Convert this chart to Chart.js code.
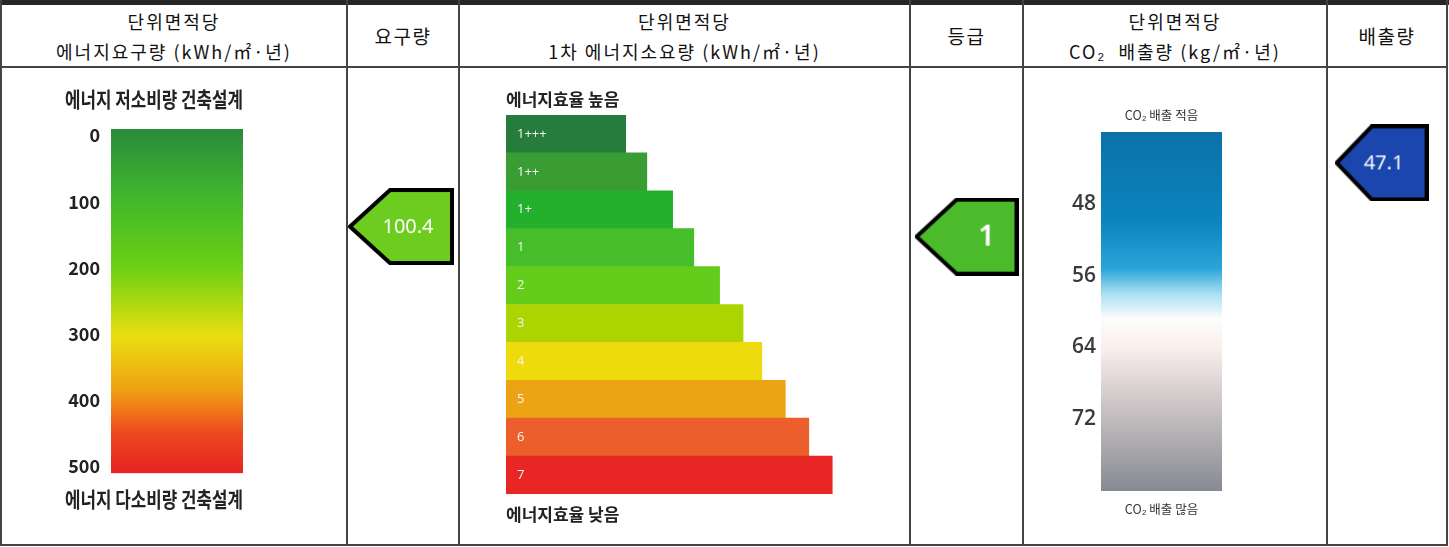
<!DOCTYPE html>
<html>
<head>
<meta charset="utf-8">
<script src="https://cdn.jsdelivr.net/npm/chart.js@4.4.0/dist/chart.umd.min.js"></script>
<style>
body{margin:0;background:#fff;font-family:"Noto Sans CJK KR",sans-serif;}
#wrap{position:relative;width:1449px;height:547px;overflow:hidden;background:#fff;}
.ln{position:absolute;background:#444;}
.hd{position:absolute;top:5px;height:61px;display:flex;flex-direction:column;justify-content:center;align-items:center;color:#111;font-size:18px;line-height:30px;letter-spacing:2px;white-space:nowrap;}
.hd.one{font-size:19px;letter-spacing:1.5px;}
canvas{position:absolute;top:68px;}
</style>
</head>
<body>
<div id="wrap">
  <div class="ln" style="left:0;top:0;width:1449px;height:5px;background:#262626"></div>
  <div class="ln" style="left:0;top:66px;width:1448px;height:2px"></div>
  <div class="ln" style="left:0;top:544px;width:1448px;height:2px"></div>
  <div class="ln" style="left:0;top:0;width:2px;height:546px"></div>
  <div class="ln" style="left:1446px;top:0;width:2px;height:546px"></div>
  <div class="ln" style="left:346px;top:0;width:2px;height:546px"></div>
  <div class="ln" style="left:458px;top:0;width:2px;height:546px"></div>
  <div class="ln" style="left:909px;top:0;width:2px;height:546px"></div>
  <div class="ln" style="left:1022px;top:0;width:2px;height:546px"></div>
  <div class="ln" style="left:1326px;top:0;width:2px;height:546px"></div>

  <div class="hd" style="left:2px;width:344px"><div>단위면적당</div><div>에너지요구량 (kWh/㎡·년)</div></div>
  <div class="hd one" style="left:348px;width:110px"><div>요구량</div></div>
  <div class="hd" style="left:460px;width:449px"><div>단위면적당</div><div>1차 에너지소요량 (kWh/㎡·년)</div></div>
  <div class="hd one" style="left:911px;width:111px"><div>등급</div></div>
  <div class="hd" style="left:1024px;width:302px"><div>단위면적당</div><div>CO₂&nbsp; 배출량 (kg/㎡·년)</div></div>
  <div class="hd one" style="left:1328px;width:118px"><div>배출량</div></div>

  <canvas id="c1" width="345" height="476" style="left:1px"></canvas>
  <canvas id="c2" width="110" height="476" style="left:348px"></canvas>
  <canvas id="c3" width="449" height="476" style="left:460px"></canvas>
  <canvas id="c4" width="111" height="476" style="left:911px"></canvas>
  <canvas id="c5" width="302" height="476" style="left:1024px"></canvas>
  <canvas id="c6" width="118" height="476" style="left:1328px"></canvas>
</div>
<script>
// values
var demandTicks = [0, 100, 200, 300, 400, 500];
var demandValue = [100.4];
var grades = ['1+++', '1++', '1+', '1', '2', '3', '4', '5', '6', '7'];
var gradeLength = [5.1, 6.0, 7.1, 8.0, 9.1, 10.1, 10.9, 11.9, 12.9, 13.9];
var myGrade = ['1'];
var co2Ticks = [48, 56, 64, 72];
var co2Value = [47.1];

var gradeColors = ['#267c3a', '#3a9d34', '#24b02c', '#46be2a', '#64cc1a', '#acd400', '#eedb0e', '#eca414', '#ec5f2c', '#e82624'];
var demandStops = [[0, '#2a8a3c'], [0.2, '#40b82c'], [0.4, '#6ad014'], [0.6, '#e8df10'], [0.76, '#f0a012'], [0.88, '#ee4a20'], [1, '#e82222']];
var co2Stops = [[0, '#0b72a8'], [0.25, '#0b84bf'], [0.38, '#2aa4d8'], [0.45, '#a8dff2'], [0.52, '#fdfdfd'], [0.6, '#fbeeec'], [0.76, '#cbc5c6'], [1, '#878a92']];

var KR = '"Noto Sans CJK KR", sans-serif';

Chart.defaults.animation = false;
Chart.defaults.events = [];
Chart.defaults.plugins.legend.display = false;
Chart.defaults.plugins.tooltip.enabled = false;

var noGrid = { display: false, drawTicks: false };

function vGrad(chart, stops) {
  var a = chart.chartArea;
  if (!a) return stops[0][1];
  var g = chart.ctx.createLinearGradient(0, a.top, 0, a.bottom);
  stops.forEach(function (s) { g.addColorStop(s[0], s[1]); });
  return g;
}

function arrowImg(w, h, notch, fill, text, font, textX) {
  var lw = 4;
  var c = document.createElement('canvas');
  c.width = w + lw;
  c.height = h + lw;
  var g = c.getContext('2d');
  g.translate(lw / 2, lw / 2);
  g.beginPath();
  g.moveTo(0, h / 2);
  g.lineTo(notch, 0);
  g.lineTo(w, 0);
  g.lineTo(w, h);
  g.lineTo(notch, h);
  g.closePath();
  g.fillStyle = fill;
  g.fill();
  g.lineWidth = lw;
  g.strokeStyle = '#000';
  g.stroke();
  g.fillStyle = '#fff';
  g.font = font;
  g.textAlign = 'center';
  g.textBaseline = 'middle';
  g.fillText(text, textX, h / 2 + 1);
  return c;
}

function arrowChart(id, point, img, yScale, pad) {
  return new Chart(document.getElementById(id), {
    type: 'scatter',
    data: { datasets: [{ data: [point], pointStyle: img, clip: false }] },
    options: {
      responsive: false,
      layout: { padding: pad },
      scales: {
        x: { display: false, min: 0, max: 1 },
        y: yScale
      }
    }
  });
}

// column 1: energy demand scale
new Chart(document.getElementById('c1'), {
  type: 'bar',
  data: {
    labels: [''],
    datasets: [{
      data: [[-10, 510]],
      backgroundColor: function (c) { return vGrad(c.chart, demandStops); },
      borderWidth: 0, barPercentage: 1, categoryPercentage: 1
    }]
  },
  options: {
    responsive: false,
    layout: { padding: { left: 64, right: 103, top: 0, bottom: 0 } },
    plugins: {
      title: { display: true, text: '에너지 저소비량 건축설계', align: 'start', color: '#222',
        font: { family: KR, size: 21, weight: 'bold' }, padding: { top: 18.4, bottom: 17.4 } },
      subtitle: { display: true, position: 'bottom', text: '에너지 다소비량 건축설계', align: 'start', color: '#222',
        font: { family: KR, size: 21, weight: 'bold' }, padding: { top: 13.4, bottom: 32.2 } }
    },
    scales: {
      x: { display: false },
      y: {
        reverse: true, min: -10, max: 510,
        grid: noGrid, border: { display: false },
        afterBuildTicks: function (s) { s.ticks = demandTicks.map(function (v) { return { value: v }; }); },
        afterFit: function (s) { s.width = 46; },
        ticks: { padding: 11, color: '#222', font: { family: KR, size: 18, weight: 'bold' } }
      }
    }
  }
});

// column 2: demand marker
arrowChart('c2', { x: 0.48, y: demandValue[0] },
  arrowImg(102, 73, 40, '#6ccd20', String(demandValue[0]), '20px "Noto Sans"', 58),
  { display: false, reverse: true, min: -50, max: 500 },
  { top: 68, bottom: 77, left: 0, right: 0 });

// column 3: grade staircase
var gradeLabels = {
  id: 'gradeLabels',
  afterDatasetsDraw: function (chart) {
    var ctx = chart.ctx;
    var meta = chart.getDatasetMeta(0);
    ctx.save();
    ctx.fillStyle = '#f4f4f4';
    ctx.font = '13px "Open Sans"';
    ctx.textBaseline = 'middle';
    meta.data.forEach(function (bar, i) {
      ctx.fillText(grades[i], bar.base + 11, bar.y);
    });
    ctx.restore();
  }
};

new Chart(document.getElementById('c3'), {
  type: 'bar',
  data: {
    labels: grades,
    datasets: [{ data: gradeLength, backgroundColor: gradeColors, borderWidth: 0, barPercentage: 1, categoryPercentage: 1 }]
  },
  options: {
    responsive: false,
    indexAxis: 'y',
    layout: { padding: { left: 46, right: 4, top: 0, bottom: 0 } },
    plugins: {
      title: { display: true, text: '에너지효율 높음', align: 'start', color: '#222',
        font: { family: KR, size: 17, weight: 'bold' }, padding: { top: 21.8, bottom: 4.8 } },
      subtitle: { display: true, position: 'bottom', text: '에너지효율 낮음', align: 'start', color: '#222',
        font: { family: KR, size: 17, weight: 'bold' }, padding: { top: 10.8, bottom: 18.8 } }
    },
    scales: {
      x: { display: false, min: 0, max: 17 },
      y: { display: false }
    }
  },
  plugins: [gradeLabels]
});

// column 4: grade marker
arrowChart('c4', { x: 0.5, y: myGrade[0] },
  arrowImg(100, 74, 40, '#4bbb2c', myGrade[0], '600 29px "Noto Sans"', 70),
  { display: false, type: 'category', labels: grades, offset: true },
  { top: 36, bottom: 61, left: 0, right: 0 });

// column 5: CO2 scale
new Chart(document.getElementById('c5'), {
  type: 'bar',
  data: {
    labels: [''],
    datasets: [{
      data: [[40, 80]],
      backgroundColor: function (c) { return vGrad(c.chart, co2Stops); },
      borderWidth: 0, barPercentage: 1, categoryPercentage: 1
    }]
  },
  options: {
    responsive: false,
    layout: { padding: { left: 40, right: 104, top: 0, bottom: 0 } },
    scales: {
      x: {
        position: 'bottom', grid: noGrid, border: { display: false }, ticks: { display: false },
        title: { display: true, text: 'CO₂ 배출 많음', color: '#333', font: { family: KR, size: 12.5 }, padding: { top: 10.5, bottom: 27.5 } }
      },
      x2: {
        type: 'category', labels: [''], position: 'top', grid: noGrid, border: { display: false }, ticks: { display: false },
        title: { display: true, text: 'CO₂ 배출 적음', color: '#333', font: { family: KR, size: 12.5 }, padding: { top: 39.5, bottom: 9.5 } }
      },
      y: {
        reverse: true, min: 40, max: 80,
        grid: noGrid, border: { display: false },
        afterBuildTicks: function (s) { s.ticks = co2Ticks.map(function (v) { return { value: v }; }); },
        afterFit: function (s) { s.width = 37; },
        ticks: { padding: 5, color: '#3a3a3a', font: { family: '"Open Sans"', size: 21, weight: '600' } }
      }
    }
  }
});

// column 6: CO2 marker
arrowChart('c6', { x: 0.45, y: co2Value[0] },
  arrowImg(90, 73, 35, '#1a46ad', String(co2Value[0]), '20px "Noto Sans"', 47),
  { display: false, reverse: true, min: 44, max: 80 },
  { top: 64, bottom: 53, left: 0, right: 0 });
</script>
</body>
</html>
